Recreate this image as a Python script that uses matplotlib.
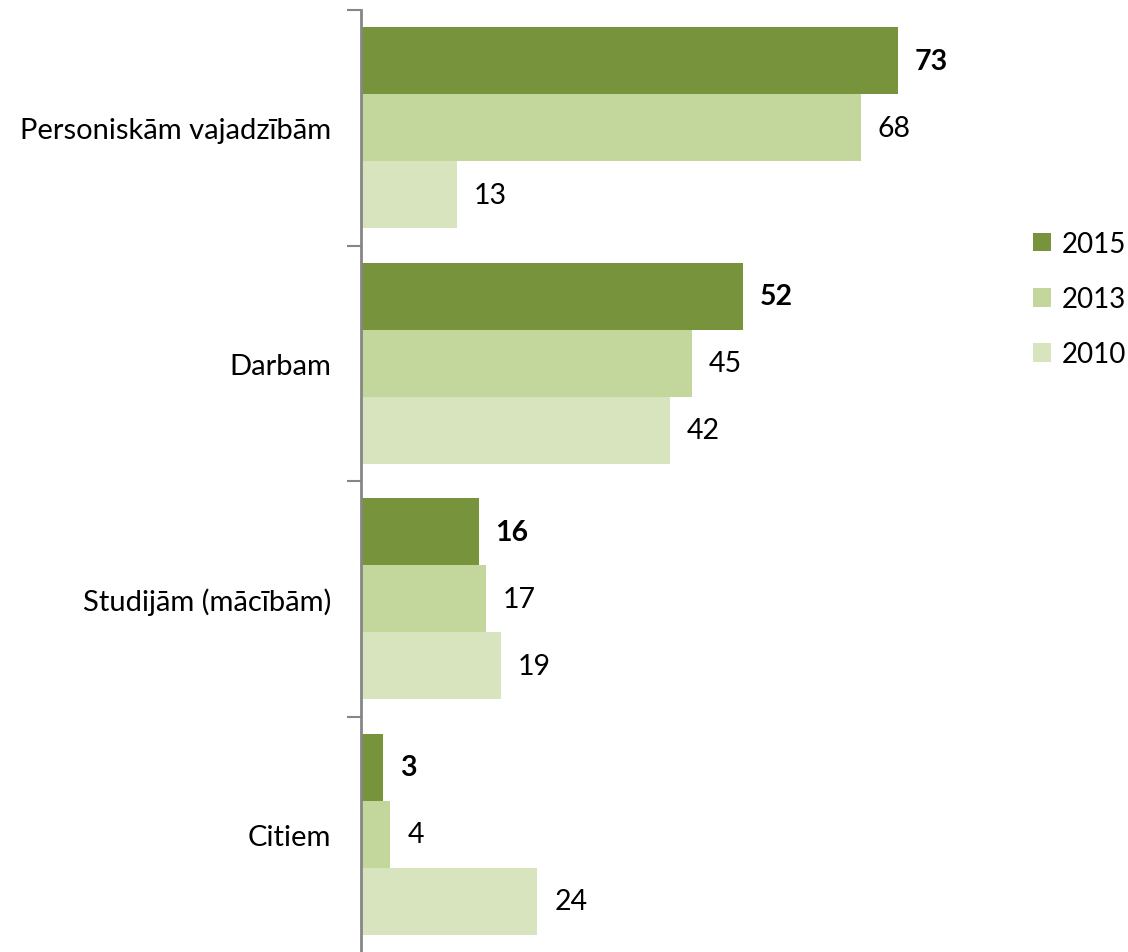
import matplotlib
matplotlib.use('Agg')
import matplotlib.pyplot as plt
import numpy as np

categories = ["Personiskām vajadzībām", "Darbam", "Studijām (mācībām)", "Citiem"]
years = ["2015", "2013", "2010"]
values_2015 = [73, 52, 16, 3]
values_2013 = [68, 45, 17, 4]
values_2010 = [13, 42, 19, 24]
colors = ["#77933C", "#C3D69B", "#D7E4BD"]

plt.rcParams['font.family'] = ['Lato', 'DejaVu Sans']

fig = plt.figure(figsize=(11.28, 9.53), dpi=100)
ax = fig.add_axes([361 / 1128, 0.0, (1000 - 361) / 1128, (953 - 11) / 953])

series = [values_2015, values_2013, values_2010]
bar_h = 0.285
y = np.arange(len(categories))
for i, (vals, col, yr) in enumerate(zip(series, colors, years)):
    pos = y + (i - 1) * bar_h
    ax.barh(pos, vals, height=bar_h, color=col, label=yr)
    for p, v in zip(pos, vals):
        ax.text(v + 2.3, p, str(v), va='center', ha='left', fontsize=20.5,
                fontweight='bold' if i == 0 else 'normal', color='black')

ax.set_xlim(0, (1000 - 361) / 7.35)
ax.set_ylim(len(categories) - 0.5, -0.5)
ax.set_xticks([])
ax.set_yticks(np.arange(len(categories)) - 0.5, minor=True)
ax.set_yticks(y)
ax.set_yticklabels(categories, fontsize=21)
ax.tick_params(axis='y', which='major', length=0, pad=21.5)
ax.tick_params(axis='y', which='minor', length=10, width=1.5, color='#868686')
for s in ['top', 'right', 'bottom']:
    ax.spines[s].set_visible(False)
ax.spines['left'].set_color('#868686')
ax.spines['left'].set_linewidth(2)

leg = fig.legend(loc='center left', bbox_to_anchor=(1033 / 1128, 1 - 300 / 953),
                 frameon=False, fontsize=20, handlelength=0.65, handleheight=0.65,
                 handletextpad=0.4, labelspacing=1.05, borderaxespad=0, borderpad=0)

fig.savefig('out.png', dpi=100)
